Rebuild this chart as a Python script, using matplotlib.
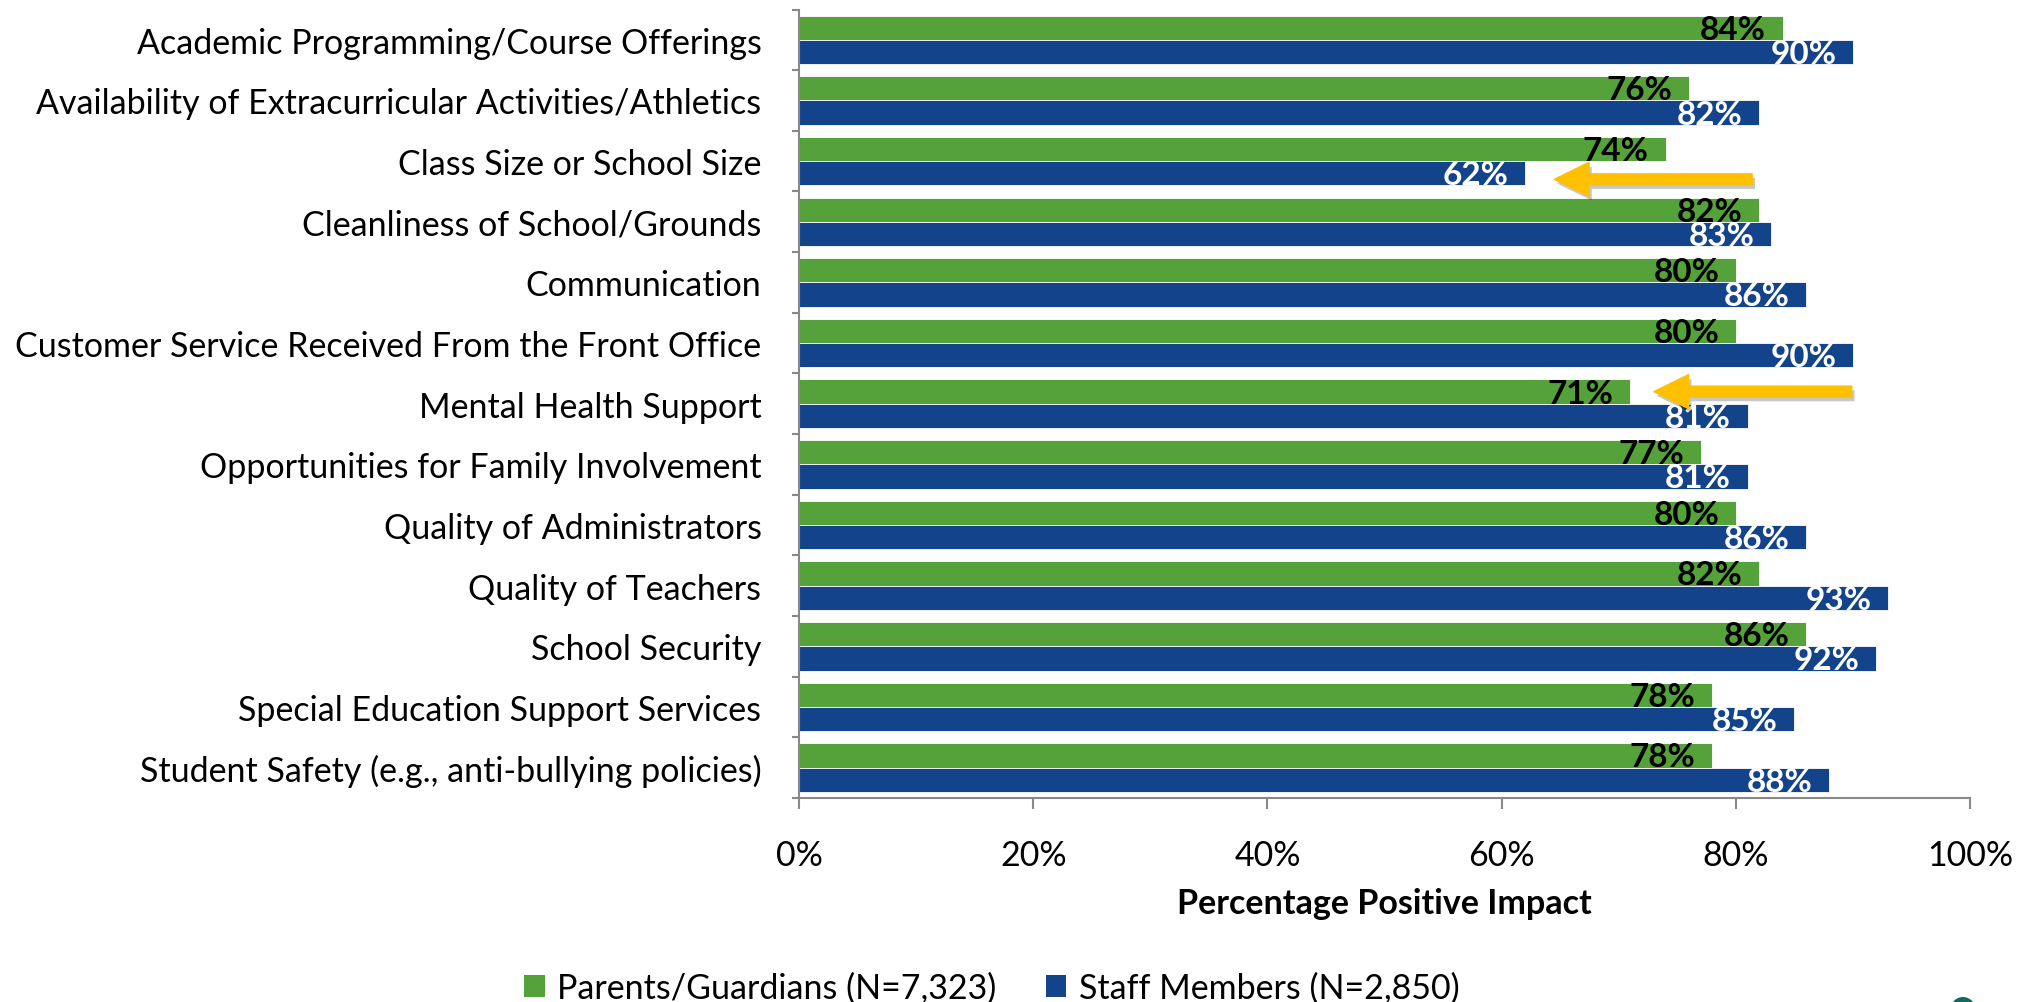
import numpy as np
import matplotlib
matplotlib.use("Agg")
import matplotlib.pyplot as plt
import matplotlib.patheffects as pe
from matplotlib.patches import Circle, Patch

categories = [
    "Academic Programming/Course Offerings",
    "Availability of Extracurricular Activities/Athletics",
    "Class Size or School Size",
    "Cleanliness of School/Grounds",
    "Communication",
    "Customer Service Received From the Front Office",
    "Mental Health Support",
    "Opportunities for Family Involvement",
    "Quality of Administrators",
    "Quality of Teachers",
    "School Security",
    "Special Education Support Services",
    "Student Safety (e.g., anti-bullying policies)",
]
parents = [84, 76, 74, 82, 80, 80, 71, 77, 80, 82, 86, 78, 78]
staff = [90, 82, 62, 83, 86, 90, 81, 81, 86, 93, 92, 85, 88]
series_names = ["Parents/Guardians (N=7,323)", "Staff Members (N=2,850)"]
xticks = [0, 20, 40, 60, 80, 100]
xlabel = "Percentage Positive Impact"

GREEN = "#54A239"
BLUE = "#13438A"
ARROW = "#FFC000"
GRAY = "#898989"

plt.rcParams["font.family"] = ["Lato", "DejaVu Sans"]
FS = 24.5
VFS = 24

fig = plt.figure(figsize=(20.30, 10.03), dpi=100)
ax = fig.add_axes([799 / 2030, 1 - 799 / 1003, 1171 / 2030, (799 - 10.5) / 1003])

y = np.arange(len(categories))
h = 0.4
ax.barh(y - h / 2, parents, height=h, color=GREEN, edgecolor="white", linewidth=0.6)
ax.barh(y + h / 2, staff, height=h, color=BLUE, edgecolor="white", linewidth=0.6)

for yi, v in zip(y, parents):
    ax.annotate(f"{v}%", xy=(v, yi - h / 2), xytext=(-12, -1), textcoords="offset points",
                ha="right", va="center", fontsize=VFS, fontweight="bold", color="black")
for yi, v in zip(y, staff):
    ax.annotate(f"{v}%", xy=(v, yi + h / 2), xytext=(-12, -1), textcoords="offset points",
                ha="right", va="center", fontsize=VFS, fontweight="bold", color="white")

ax.set_xlim(0, 100)
ax.set_ylim(len(categories) - 0.5, -0.5)

ax.set_yticks(y)
ax.set_yticklabels(categories, fontsize=FS)
ax.tick_params(axis="y", which="major", length=0, pad=27)
ax.set_yticks(np.arange(-0.5, len(categories), 1), minor=True)
ax.tick_params(axis="y", which="minor", length=5, width=1.5, color=GRAY)

ax.set_xticks(xticks)
ax.set_xticklabels([f"{t}%" for t in xticks], fontsize=FS)
ax.tick_params(axis="x", which="major", length=8.2, width=1.5, color=GRAY, pad=21)

for s in ["top", "right"]:
    ax.spines[s].set_visible(False)
for s in ["left", "bottom"]:
    ax.spines[s].set_color(GRAY)
    ax.spines[s].set_linewidth(1.5)

ax.set_xlabel(xlabel, fontsize=FS, fontweight="bold")
ax.xaxis.set_label_coords(0.5, -(904 - 799) / (799 - 10.5))
ax.xaxis.label.set_va("center")

# highlight arrows
arrows = [(2 + 0.30, 81.4, 64.5), (6 - 0.20, 89.9, 73.0)]
for ay, x0, x1 in arrows:
    ax.annotate("", xy=(x1, ay), xytext=(x0, ay),
                arrowprops=dict(arrowstyle="simple,head_length=25,head_width=24.5,tail_width=7.9",
                                mutation_scale=1, color=ARROW, shrinkA=0, shrinkB=0,
                                path_effects=[pe.SimplePatchShadow(offset=(2, -3), shadow_rgbFace="k", alpha=0.22),
                                              pe.Normal()]))

handles = [Patch(facecolor=GREEN), Patch(facecolor=BLUE)]
fig.legend(handles, series_names, loc="center", bbox_to_anchor=(992 / 2030, 1 - 989 / 1003),
           ncol=2, frameon=False, fontsize=FS, handlelength=0.6, handleheight=0.6,
           handletextpad=0.37, columnspacing=1.45)

fig.patches.append(Circle((19.63, -0.075), 0.125, transform=fig.dpi_scale_trans,
                          facecolor="#0E6B5E", edgecolor="none"))

fig.savefig("out.png", dpi=100)
